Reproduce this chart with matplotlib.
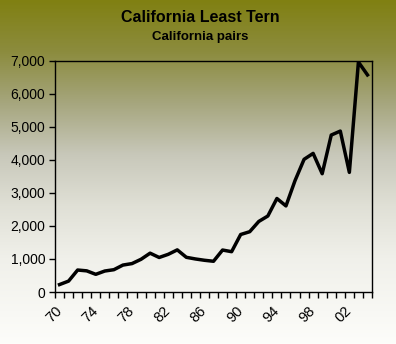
import numpy as np
import matplotlib
matplotlib.use("Agg")
import matplotlib.pyplot as plt
from matplotlib.ticker import FuncFormatter, FixedLocator

plt.rcParams['font.family'] = ['Liberation Sans', 'DejaVu Sans']

# Breeding pairs counted each year, 1970-2004
years = list(range(1970, 2005))
pairs = [225, 330, 665, 640, 535, 635, 675, 815, 860, 990,
         1175, 1045, 1140, 1275, 1050, 1000, 960, 930, 1270, 1220,
         1740, 1825, 2135, 2300, 2830, 2605, 3370, 4015, 4195, 3580,
         4750, 4870, 3620, 6960, 6570]
year_labels = ["70", "74", "78", "82", "86", "90", "94", "98", "02"]
y_ticks = [0, 1000, 2000, 3000, 4000, 5000, 6000, 7000]

fig = plt.figure(figsize=(3.96, 3.44), dpi=100)

# olive-to-white vertical gradient behind everything
bg = fig.add_axes([0, 0, 1, 1], zorder=0)
stops = np.array([0.0, 0.15, 0.3, 0.45, 0.6, 0.75, 1.0])
cols = np.array([[128, 128, 18], [140, 140, 62], [166, 166, 126],
                 [200, 200, 186], [224, 224, 214], [240, 240, 234],
                 [253, 253, 250]]) / 255.0
t = np.linspace(0, 1, 344)
grad = np.stack([np.interp(t, stops, cols[:, c]) for c in range(3)], axis=1)
bg.imshow(grad[:, None, :], aspect='auto', extent=[0, 1, 0, 1])
bg.axis('off')

ax = fig.add_axes([55 / 396, 1 - 292 / 344, 317 / 396, 231.3 / 344], zorder=1)
ax.set_facecolor('none')

x = np.arange(len(years))
ax.plot(x, pairs, color='black', lw=2.5, solid_joinstyle='round')

ax.set_xlim(-0.5, len(years) - 0.5)
ax.set_ylim(0, 7000)

# tick marks between categories, labels every fourth year
ax.xaxis.set_minor_locator(FixedLocator(np.arange(-0.5, len(years), 1.0)))
label_years = [int(l) + (1900 if int(l) > 50 else 2000) for l in year_labels]
ax.set_xticks([years.index(y) for y in label_years])
ax.set_xticklabels(year_labels, rotation=45, ha='right', va='center',
                   rotation_mode='anchor', fontsize=10.5)
ax.tick_params(axis='x', which='major', length=0, pad=12)
ax.tick_params(axis='x', which='minor', length=4, width=1, direction='out')

ax.set_yticks(y_ticks)
ax.yaxis.set_major_formatter(FuncFormatter(lambda v, p: f"{int(v):,}"))
ax.tick_params(axis='y', length=4, width=1, direction='out', labelsize=10, pad=3)

for s in ax.spines.values():
    s.set_linewidth(1)
    s.set_color('black')

fig.text(0.505, 1 - 18 / 344, "California Least Tern", ha='center', va='center',
         fontsize=11.5, fontweight='bold')
fig.text(0.505, 1 - 37 / 344, "California pairs", ha='center', va='center',
         fontsize=9.5, fontweight='bold')

fig.savefig("out.png", dpi=100)
